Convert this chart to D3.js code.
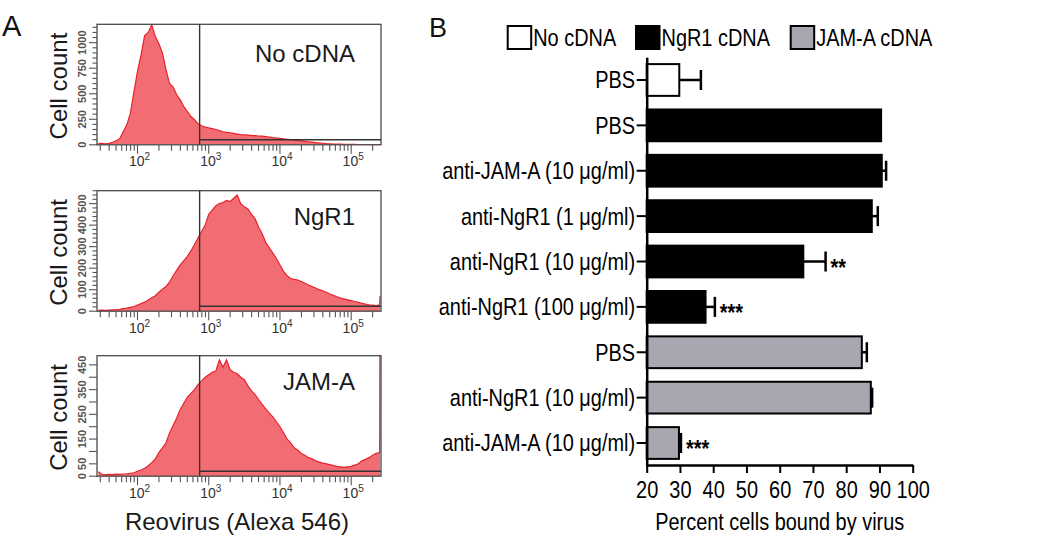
<!DOCTYPE html>
<html><head><meta charset="utf-8">
<script src="https://cdn.jsdelivr.net/npm/d3@7"></script>
<style>
body{margin:0;background:#fff}
text{font-family:'Liberation Sans',Arial,Helvetica,sans-serif}
</style>
</head><body>
<svg id="c" width="1050" height="557"></svg>
<script>
// ---------------- Panel A data (flow cytometry histograms) ----------------
// channel positions as log10(fluorescence)
const channels = [
  1.45,1.50,1.55,1.60,1.65,1.70,1.75,1.80,1.85,1.90,
  1.95,2.00,2.05,2.10,2.15,2.20,2.25,2.30,2.35,2.40,
  2.45,2.50,2.55,2.60,2.65,2.70,2.75,2.80,2.85,2.90,
  2.95,3.00,3.05,3.10,3.15,3.20,3.25,3.30,3.35,3.40,
  3.45,3.50,3.55,3.60,3.65,3.70,3.75,3.80,3.85,3.90,
  3.95,4.00,4.05,4.10,4.15,4.20,4.25,4.30,4.35,4.40,
  4.45,4.50,4.55,4.60,4.65,4.70,4.75,4.80,4.85,4.90,
  4.95,5.00,5.05,5.10,5.15,5.20,5.25,5.30,5.35,5.40,
  5.405
];
const noCdnaCounts = [
  12,15,10,14,25,40,60,130,195,310,
  520,720,880,1070,1100,1175,1060,990,900,735,
  600,565,490,440,375,326,277,245,205,186,
  173,165,158,150,140,128,122,118,112,105,
  100,98,95,92,90,86,84,80,75,70,
  66,62,58,54,50,46,42,38,34,30,
  26,22,18,15,12,10,8,7,6,5,
  5,4,4,3,3,3,2,2,2,3,
  3
];
const ngr1Counts = [
  4,5,4,5,6,7,9,12,14,18,
  22,28,35,42,52,62,72,88,102,115,
  135,165,190,215,235,255,280,310,340,370,
  400,450,470,490,500,505,515,510,525,540,
  500,485,475,450,430,390,360,320,295,270,
  245,215,185,165,152,148,145,138,130,122,
  115,108,100,95,88,80,74,67,61,57,
  53,49,45,41,37,33,30,28,26,30,
  70
];
const jamaCounts = [
  18,8,6,7,6,8,7,9,10,12,
  14,20,25,32,42,55,70,95,115,135,
  175,205,235,270,295,320,335,350,370,385,
  400,410,420,425,470,440,470,430,420,414,
  400,390,365,345,330,310,290,272,255,240,
  220,200,175,150,135,115,105,92,85,75,
  70,62,57,53,50,47,43,40,38,36,
  38,40,45,50,62,68,75,85,92,95,
  700
];
const histNames = ["No cDNA", "NgR1", "JAM-A"];
const histYMax = [1180, 560, 487];
const histYLabels = [[0,250,500,750,1000],[0,100,200,300,400,500],[0,50,150,250,350,450]];
const histYStep = [50, 20, 50];
const xDecadeLabels = [2,3,4,5];
const gateValue = 745;

// ---------------- Panel B data (bar chart) ----------------
const barCategories = ["PBS","PBS","anti-JAM-A (10 \u03bcg/ml)","anti-NgR1 (1 \u03bcg/ml)",
  "anti-NgR1 (10 \u03bcg/ml)","anti-NgR1 (100 \u03bcg/ml)","PBS","anti-NgR1 (10 \u03bcg/ml)","anti-JAM-A (10 \u03bcg/ml)"];
const barGroups = ["No cDNA","NgR1 cDNA","NgR1 cDNA","NgR1 cDNA","NgR1 cDNA","NgR1 cDNA","JAM-A cDNA","JAM-A cDNA","JAM-A cDNA"];
const barValues = [29.8, 90.5, 90.7, 87.7, 67.1, 37.7, 84.7, 87.4, 29.7];
const barErrors = [6.5, 0, 1.3, 1.8, 6.7, 2.8, 1.5, 0.4, 0.6];
const barStars = ["", "", "", "", "**", "***", "", "", "***"];
const legendGroups = ["No cDNA","NgR1 cDNA","JAM-A cDNA"];
const legendColors = ["#ffffff","#000000","#a6a7b0"];
const xTicksB = [20,30,40,50,60,70,80,90,100];
const xTitleB = "Percent cells bound by virus";

const svg = d3.select("#c");

// ===== Panel A =====
svg.append("text").attr("x", 2).attr("y", 36).attr("font-size", 29).attr("fill", "#111").text("A");

const frameL = 97, frameR = 381, frameH = 120.5;
const histTops = [24.3, 190.7, 355.7];
const histData = [noCdnaCounts, ngr1Counts, jamaCounts];
const xHist = d3.scaleLog().domain([27, 262144]).range([frameL, frameR]);

histData.forEach((counts, i) => {
  const top = histTops[i], bottom = top + frameH;
  const y = d3.scaleLinear().domain([0, histYMax[i]]).range([bottom, top]);
  const g = svg.append("g");
  const cid = "clip" + i;
  g.append("clipPath").attr("id", cid).append("rect")
    .attr("x", frameL).attr("y", top).attr("width", frameR - frameL).attr("height", frameH);
  const pts = channels.map((c, k) => [c, counts[k]]);
  const area = d3.area().x(d => xHist(Math.pow(10, d[0]))).y0(y(0)).y1(d => y(d[1]));
  const line = d3.line().x(d => xHist(Math.pow(10, d[0]))).y(d => y(d[1]));
  g.append("path").attr("clip-path", `url(#${cid})`).attr("d", area(pts))
    .attr("fill", "#f26d73");
  g.append("path").attr("clip-path", `url(#${cid})`).attr("d", line(pts))
    .attr("fill", "none").attr("stroke", "#e8222b").attr("stroke-width", 1.2);

  // frame
  g.append("rect").attr("x", frameL).attr("y", top).attr("width", frameR - frameL).attr("height", frameH)
    .attr("fill", "none").attr("stroke", "#4a4a4a").attr("stroke-width", 1.3);

  // gate
  const gx = xHist(gateValue);
  g.append("line").attr("x1", gx).attr("x2", gx).attr("y1", top).attr("y2", bottom)
    .attr("stroke", "#333").attr("stroke-width", 1.4);
  g.append("line").attr("x1", gx).attr("x2", frameR).attr("y1", bottom - 5).attr("y2", bottom - 5)
    .attr("stroke", "#333").attr("stroke-width", 1.4);

  // x ticks
  xHist.ticks().forEach(t => {
    const major = Math.abs(Math.log10(t) - Math.round(Math.log10(t))) < 1e-9;
    g.append("line").attr("x1", xHist(t)).attr("x2", xHist(t))
      .attr("y1", bottom).attr("y2", bottom + (major ? 9 : 6))
      .attr("stroke", "#555").attr("stroke-width", 1.1);
  });
  xDecadeLabels.forEach(p => {
    const t = g.append("text").attr("x", xHist(Math.pow(10, p)) + 2).attr("y", bottom + 21.5)
      .attr("text-anchor", "middle").attr("font-size", 14).attr("fill", "#333");
    t.append("tspan").text("10");
    t.append("tspan").attr("dy", -6).attr("font-size", 10).text(p);
  });

  // y ticks
  const labs = histYLabels[i];
  d3.range(0, histYMax[i] + 0.001, histYStep[i]).forEach(v => {
    const major = i === 2 || labs.includes(v);
    g.append("line").attr("x1", frameL).attr("x2", frameL - (major ? 8 : 4.5))
      .attr("y1", y(v)).attr("y2", y(v)).attr("stroke", "#555").attr("stroke-width", 1.1);
  });
  labs.forEach(v => {
    g.append("text").attr("transform", `translate(86,${y(v)}) rotate(-90)`)
      .attr("text-anchor", "middle").attr("font-size", 11).attr("font-weight", "bold").attr("fill", "#555")
      .text(v);
  });

  g.append("text").attr("transform", `translate(67,${(top + bottom) / 2 + 1.5}) rotate(-90)`)
    .attr("text-anchor", "middle").attr("font-size", 24).attr("fill", "#1a1a1a").text("Cell count");

  g.append("text").attr("x", 355).attr("y", top + (i === 0 ? 38 : 34.5)).attr("text-anchor", "end")
    .attr("font-size", 24).attr("fill", "#1a1a1a").text(histNames[i]);
});

svg.append("text").attr("x", (frameL + frameR) / 2 - 2).attr("y", 530).attr("text-anchor", "middle")
  .attr("font-size", 24).attr("fill", "#1a1a1a").text("Reovirus (Alexa 546)");

// ===== Panel B =====
const SX = 0.83;
svg.append("text").attr("x", 429).attr("y", 37).attr("font-size", 27).attr("fill", "#111").text("B");

const xB = d3.scaleLinear().domain([20, 100]).range([646.7, 912.7]);
const yB = d3.scaleBand().domain(d3.range(barCategories.length)).range([57.3, 465.7])
  .paddingInner(0.3).paddingOuter(0.15);
const colorB = d3.scaleOrdinal().domain(legendGroups).range(legendColors);

const gb = svg.append("g");
// bars
gb.selectAll("rect.bar").data(barValues).join("rect").attr("class", "bar")
  .attr("x", xB(20)).attr("y", (d, i) => yB(i))
  .attr("width", d => xB(d) - xB(20)).attr("height", yB.bandwidth())
  .attr("fill", (d, i) => colorB(barGroups[i])).attr("stroke", "#000").attr("stroke-width", 2);
// error bars
barValues.forEach((v, i) => {
  const e = barErrors[i];
  const cy = yB(i) + yB.bandwidth() / 2;
  if (e > 0) {
    gb.append("line").attr("x1", xB(v)).attr("x2", xB(v + e)).attr("y1", cy).attr("y2", cy)
      .attr("stroke", "#000").attr("stroke-width", 2.5);
    gb.append("line").attr("x1", xB(v + e)).attr("x2", xB(v + e)).attr("y1", cy - 10).attr("y2", cy + 10)
      .attr("stroke", "#000").attr("stroke-width", 2.5);
  }
  if (barStars[i]) {
    gb.append("text").attr("transform", `translate(${xB(v + e) + 5},${cy + 14}) scale(${SX},1)`)
      .attr("font-size", 24).attr("font-weight", "bold").attr("fill", "#000").text(barStars[i]);
  }
});

// axes
const ax = gb.append("g").attr("transform", `translate(0,465)`)
  .call(d3.axisBottom(xB).tickValues(xTicksB).tickSize(8).tickSizeOuter(0));
ax.select(".domain").attr("stroke", "#000").attr("stroke-width", 2.5);
ax.selectAll(".tick line").attr("stroke", "#000").attr("stroke-width", 2);
ax.selectAll(".tick text").attr("y", 33).attr("dy", 0).attr("font-size", 24).attr("fill", "#000")
  .attr("font-family", "'Liberation Sans',Arial,sans-serif").attr("transform", `scale(${SX},1)`);

const ay = gb.append("g").attr("transform", `translate(${xB(20)},0)`)
  .call(d3.axisLeft(yB).tickSize(10).tickSizeOuter(0).tickFormat(i => barCategories[i]));
ay.select(".domain").attr("stroke", "#000").attr("stroke-width", 2.5);
ay.selectAll(".tick line").attr("stroke", "#000").attr("stroke-width", 2);
ay.selectAll(".tick text").attr("x", -14).attr("dy", "0.35em").attr("font-size", 24).attr("fill", "#000")
  .attr("font-family", "'Liberation Sans',Arial,sans-serif").attr("transform", `scale(${SX},1)`);

gb.append("text").attr("transform", `translate(${(xB(20) + xB(100)) / 2},530) scale(${SX},1)`)
  .attr("text-anchor", "middle").attr("font-size", 24).attr("fill", "#000").text(xTitleB);

// legend
const legendX = [507.7, 636, 790.7];
legendGroups.forEach((gname, i) => {
  gb.append("rect").attr("x", legendX[i]).attr("y", 26).attr("width", 23.5).attr("height", 23)
    .attr("fill", colorB(gname)).attr("stroke", "#000").attr("stroke-width", 2);
  gb.append("text").attr("transform", `translate(${legendX[i] + 25.5},46) scale(${SX},1)`)
    .attr("font-size", 24).attr("fill", "#000").text(gname);
});
</script>
</body></html>
